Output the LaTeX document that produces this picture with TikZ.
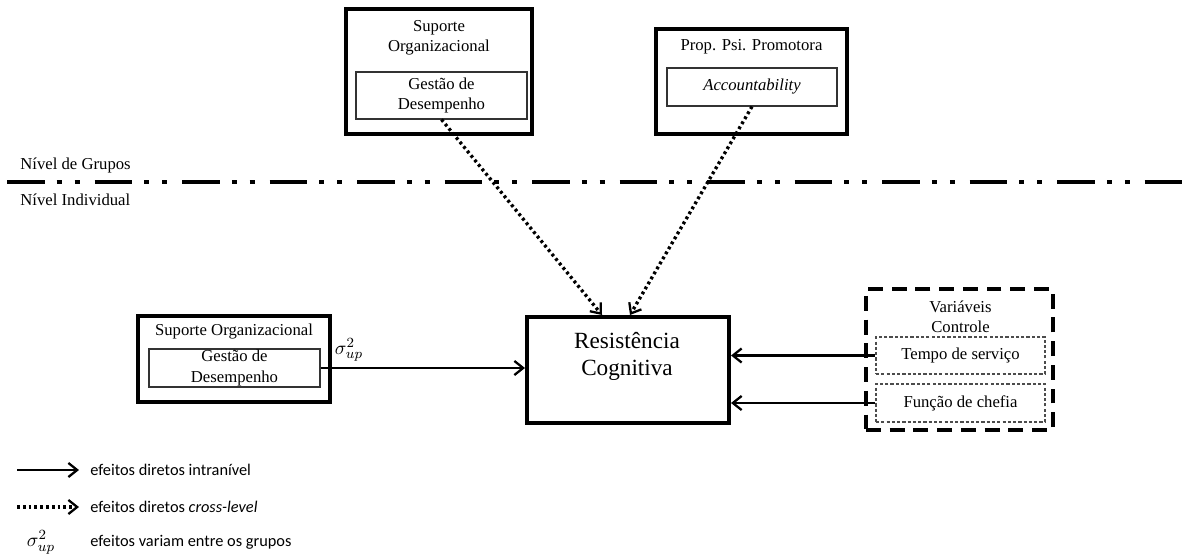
\documentclass[tikz,border=0pt]{standalone}
\usepackage{fontspec}
\setmainfont{Liberation Serif}
\newfontfamily\legfont{Carlito}
\usepackage{amsmath}
\usetikzlibrary{arrows.meta, positioning}

\begin{document}
\begin{tikzpicture}[
    every node/.style={font=\fontsize{9.5}{11.5}\selectfont},
    outer/.style={draw, line width=2.3pt, inner sep=0pt},
    inner/.style={draw, line width=0.6pt, draw=black!80, align=center, inner sep=0pt},
    ctrlbox/.style={outer, dash pattern=on 8.5pt off 5pt},
    ctrlin/.style={inner, draw=black!70, dash pattern=on 1.8pt off 1.2pt},
    title/.style={align=center, inner sep=1pt},
    lvl/.style={line width=2.3pt, dash pattern=on 21.5pt off 6.8pt on 2.8pt off 7.4pt on 2.8pt off 8.5pt},
    arr/.style={-{Straight Barb[length=5pt, width=8pt, line width=1.3pt]}, line width=1.2pt},
    xarr/.style={arr, line width=1.9pt, dash pattern=on 1.6pt off 1.7pt},
    sig/.style={font=\fontsize{11}{13}\selectfont, inner sep=0pt},
    leg/.style={font=\legfont\fontsize{9.3}{11}\selectfont, anchor=west, inner sep=0pt},
]
    \useasboundingbox (0,0) rectangle (23.82,11.16);

    % Group level.
    \node[outer, minimum width=3.72cm, minimum height=2.5cm] (supG) at (8.78, 9.73) {};
    \node[title] (supGt) at (8.78, 10.40) {Suporte\\Organizacional};
    \node[inner, minimum width=3.42cm, minimum height=0.94cm] (gdG) at (8.83, 9.25)
        {Gestão de\\Desempenho};

    \node[outer, minimum width=3.82cm, minimum height=2.1cm] (prop) at (15.03, 9.53) {};
    \node[title] (propt) at (15.03, 10.22) {Prop. Psi. Promotora};
    \node[inner, minimum width=3.4cm, minimum height=0.76cm] (acc) at (15.04, 9.42)
        {\textit{Accountability}};

    % Level divider.
    \coordinate (lvlA) at (0.14, 7.52);
    \coordinate (lvlB) at (23.82, 7.52);
    \draw[lvl] (lvlA) -- (lvlB);
    \node[anchor=west, inner sep=0pt] (grp) at (0.4, 7.86) {Nível de Grupos};
    \node[anchor=west, inner sep=0pt] (ind) at (0.4, 7.16) {Nível Individual};

    % Individual level.
    \node[outer, minimum width=4.04cm, minimum height=2.12cm] (res) at (12.56, 3.76) {};
    \node[title, font=\fontsize{13.2}{15.5}\selectfont] (rest) at (12.54, 4.03)
        {Resistência\\Cognitiva};

    \node[outer, minimum width=3.84cm, minimum height=1.72cm] (supI) at (4.68, 3.98) {};
    \node[title] (supIt) at (4.68, 4.52) {Suporte Organizacional};
    \node[inner, minimum width=3.42cm, minimum height=0.76cm] (gdI) at (4.69, 3.80)
        {Gestão de\\Desempenho};

    \node[ctrlbox, minimum width=3.74cm, minimum height=2.82cm] (ctrl) at (19.19, 3.97) {};
    \node[title] (ctrlt) at (19.21, 4.82) {Variáveis\\Controle};
    \node[ctrlin, minimum width=3.38cm, minimum height=0.74cm] (tempo) at (19.21, 4.05)
        {Tempo de serviço};
    \node[ctrlin, minimum width=3.38cm, minimum height=0.76cm] (func) at (19.21, 3.10)
        {Função de chefia};

    % Effects.
    \draw[xarr] (gdG.south) -- ([xshift=-0.52cm]res.north);
    \draw[xarr] (acc.south) -- ([xshift=0.04cm]res.north);
    \draw[arr] (gdI.east) -- (gdI.east -| res.west);
    \node[sig, anchor=south west] (sig) at ([xshift=0.28cm, yshift=0.12cm]gdI.east)
        {$\sigma^2_{up}$};
    \draw[arr] (tempo.west) -- (tempo.west -| res.east);
    \draw[arr] (func.west) -- (func.west -| res.east);

    % Legend.
    \coordinate (k1a) at (0.34, 1.76);
    \coordinate (k1b) at (1.58, 1.76);
    \coordinate (k2a) at (0.34, 1.02);
    \coordinate (k2b) at (1.58, 1.02);
    \draw[arr] (k1a) -- (k1b);
    \draw[xarr] (k2a) -- (k2b);
    \node[leg] (l1) at (1.8, 1.76) {efeitos diretos intranível};
    \node[leg] (l2) at (1.8, 1.02) {efeitos diretos \textit{cross-level}};
    \node[sig] (l3s) at (0.82, 0.32) {$\sigma^2_{up}$};
    \node[leg] (l3) at (1.8, 0.32) {efeitos variam entre os grupos};
\end{tikzpicture}
\end{document}
